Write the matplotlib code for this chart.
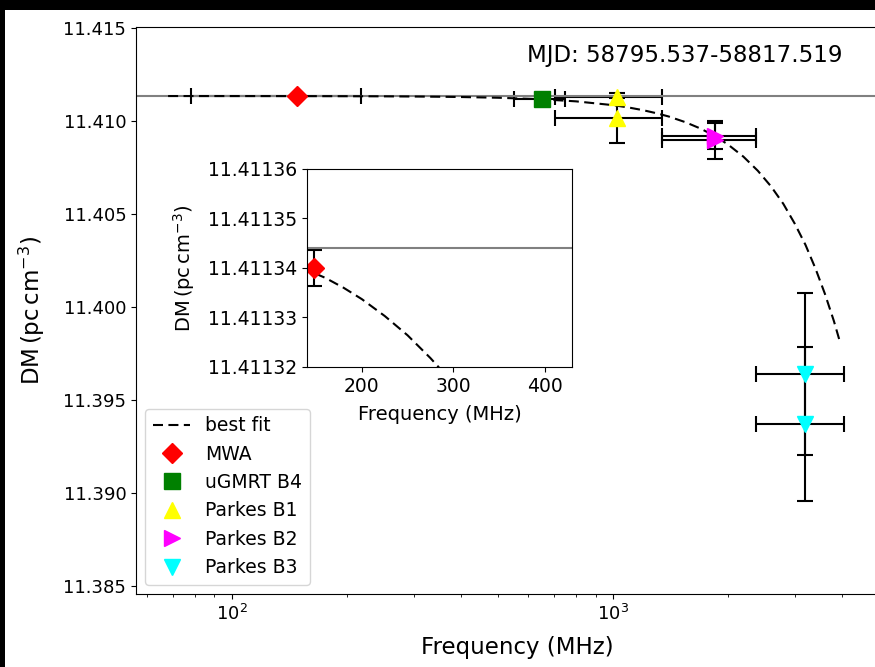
import matplotlib
matplotlib.use("Agg")
import matplotlib.pyplot as plt
from matplotlib.patches import Rectangle

# DM measurements per band: centre frequency, half bandwidth, DM, DM error
mwa_freq = [148]
mwa_bw = [70]
mwa_dm = [11.41134]
mwa_err = [3.7e-6]

gmrt_freq = [650]
gmrt_bw = [100]
gmrt_dm = [11.41117]
gmrt_err = [3e-5]

b1_freq = [1024, 1024]
b1_bw = [320, 320]
b1_dm = [11.41131, 11.41016]
b1_err = [5e-5, 0.00134]

b2_freq = [1856, 1856]
b2_bw = [512, 512]
b2_dm = [11.40899, 11.40918]
b2_err = [0.00103, 0.00070]

b3_freq = [3200, 3200]
b3_bw = [832, 832]
b3_dm = [11.39640, 11.39371]
b3_err = [0.00435, 0.00414]

# best-fit curve, sampled
fit_freq = [68, 100, 140, 160, 180, 200, 225, 250, 275, 300, 350, 400, 500,
            650, 800, 1000, 1100, 1200, 1300, 1400, 1550, 1700, 1850, 2000,
            2200, 2400, 2600, 2800, 3000, 3200, 3400, 3600, 3800, 3940]
fit_dm = [11.411343, 11.411342, 11.4113396, 11.411338, 11.411336, 11.4113337,
          11.4113303, 11.4113264, 11.4113218, 11.4113167, 11.4113044, 11.4112895,
          11.411251, 11.411169, 11.411057, 11.410853, 11.410726, 11.410582,
          11.410420, 11.410244, 11.409936, 11.409589, 11.409193, 11.408752,
          11.408084, 11.407326, 11.406484, 11.405548, 11.404484, 11.403350,
          11.402074, 11.400711, 11.399254, 11.398147]

dm_inf = 11.411344
mjd_text = "MJD: 58795.537-58817.519"

bands = [
    ("MWA", mwa_freq, mwa_bw, mwa_dm, mwa_err, "D", "red", 10),
    ("uGMRT B4", gmrt_freq, gmrt_bw, gmrt_dm, gmrt_err, "s", "green", 11.5),
    ("Parkes B1", b1_freq, b1_bw, b1_dm, b1_err, "^", "yellow", 11.5),
    ("Parkes B2", b2_freq, b2_bw, b2_dm, b2_err, ">", "magenta", 11.5),
    ("Parkes B3", b3_freq, b3_bw, b3_dm, b3_err, "v", "cyan", 11.5),
]
fit_dashes = (4.8, 2.6)

fig = plt.figure(figsize=(8.75, 6.67), dpi=100, facecolor="black")
fig.add_artist(Rectangle((5 / 875, 0), 1, 657 / 667, transform=fig.transFigure,
                         facecolor="white", edgecolor="none", zorder=-5))

ax = fig.add_axes([0.1554, 0.1094, 0.8709, 0.85])
ax.set_xscale("log")

for name, f, bw, dm, err, mk, col, ms in bands:
    ax.errorbar(f, dm, xerr=bw, yerr=err, fmt="none", ecolor="black",
                elinewidth=1.5, capsize=5.5, capthick=1.5)
ax.axhline(dm_inf, color="gray", lw=1.5)
ax.plot(fit_freq, fit_dm, "k--", lw=1.5, dashes=fit_dashes, label="best fit")
for name, f, bw, dm, err, mk, col, ms in bands:
    ax.plot(f, dm, mk, color=col, ms=ms, ls="none", label=name)

ax.set_xlim(56, 5600)
ax.set_ylim(11.38457, 11.41505)
ax.set_yticks([11.385, 11.390, 11.395, 11.400, 11.405, 11.410, 11.415])
ax.ticklabel_format(axis="y", useOffset=False)
ax.tick_params(labelsize=13)
ax.set_xlabel("Frequency (MHz)", fontsize=16.5, labelpad=9)
ax.set_ylabel(r"DM$\,$(pc$\,$cm$^{-3}$)", fontsize=16.5, labelpad=12)
ax.text(0.513, 0.9506, mjd_text, transform=ax.transAxes, fontsize=16.5,
        ha="left", va="center")
ax.legend(loc="lower left", fontsize=13.5, labelspacing=0.5)

# zoom on the low-frequency end
axin = fig.add_axes([0.3509, 0.4498, 0.3029, 0.2969])
axin.errorbar(mwa_freq, mwa_dm, yerr=mwa_err, fmt="none", ecolor="black",
              elinewidth=1.5, capsize=5.5, capthick=1.5)
axin.axhline(dm_inf, color="gray", lw=1.5)
axin.plot(fit_freq, fit_dm, "k--", lw=1.5, dashes=fit_dashes)
axin.plot(mwa_freq, mwa_dm, "D", color="red", ms=10, ls="none")
axin.set_xlim(140, 430)
axin.set_ylim(11.41132, 11.41136)
axin.set_xticks([200, 300, 400])
axin.set_yticks([11.41132, 11.41133, 11.41134, 11.41135, 11.41136])
axin.ticklabel_format(axis="y", useOffset=False)
axin.tick_params(labelsize=13.5)
axin.set_xlabel("Frequency (MHz)", fontsize=14, labelpad=7)
axin.set_ylabel(r"DM$\,$(pc$\,$cm$^{-3}$)", fontsize=14, labelpad=8)

fig.savefig("out.png", dpi=100)
